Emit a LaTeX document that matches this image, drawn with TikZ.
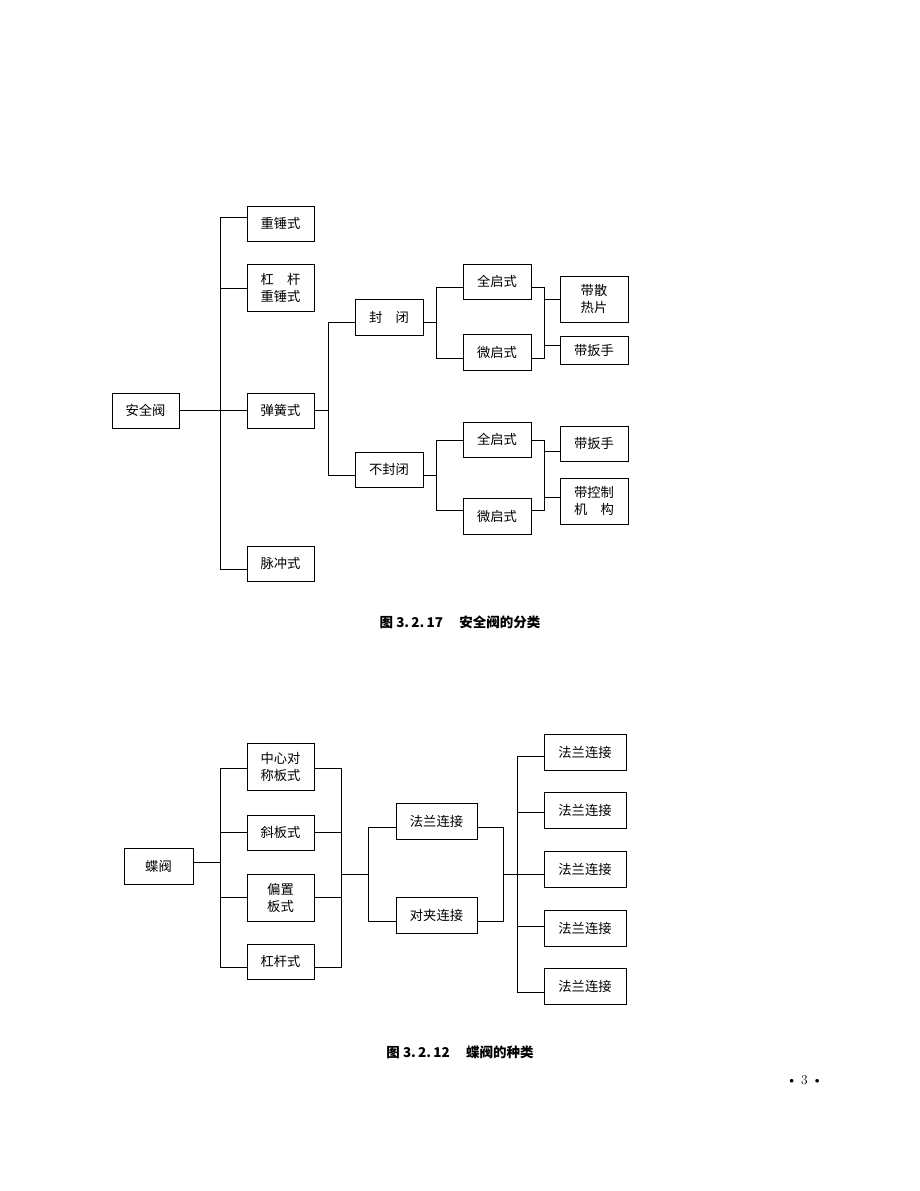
\documentclass[tikz,border=0pt]{standalone}
\usepackage{fontspec}
\newfontfamily\cjk{Noto Sans CJK SC}
\begin{document}
\begin{tikzpicture}[x=1pt,y=-1pt,
  box/.style={draw, line width=0.8pt, inner sep=0pt, align=center, font=\cjk\fontsize{13.3}{17}\selectfont},
  bx/.style 2 args={box, minimum width=#1pt, minimum height=#2pt},
  conn/.style={line width=0.8pt, line cap=rect},
  captext/.style={font=\cjk\bfseries\fontsize{13.5}{15}\selectfont, inner sep=0pt}]
\useasboundingbox (0,0) rectangle (920,1191);
% ---------- top diagram ----------
\node[bx={67}{35}] (A) at (145.5,410.5) {安全阀};
\node[bx={67}{35}] (B1) at (280.5,223.5) {重锤式};
\node[bx={67}{47}] (B2) at (280.5,287.5) {杠\hspace{1em}杆\\重锤式};
\node[bx={67}{35}] (B3) at (280.5,410.5) {弹簧式};
\node[bx={67}{35}] (B4) at (280.5,563.5) {脉冲式};
\node[bx={68}{36}] (C1) at (389,317) {封\hspace{1em}闭};
\node[bx={68}{35}] (C2) at (389,469.5) {不封闭};
\node[bx={68}{35}] (D1) at (497,281.5) {全启式};
\node[bx={68}{36}] (D2) at (497,352) {微启式};
\node[bx={68}{35}] (D3) at (497,439.5) {全启式};
\node[bx={68}{36}] (D4) at (497,516) {微启式};
\node[bx={68}{46}] (E1) at (594,299) {带散\\热片};
\node[bx={68}{28}] (E2) at (594,350) {带扳手};
\node[bx={68}{35}] (E3) at (594,443.5) {带扳手};
\node[bx={68}{46}] (E4) at (594,501) {带控制\\机\hspace{1em}构};
% trunk 1
\coordinate (tAt) at (220,217);
\coordinate (tAb) at (220,569);
\coordinate (b2) at (220,288);
\draw[conn] (A.east) -- (A.east -| tAt);
\draw[conn] (tAt) -- (tAb);
\draw[conn] (tAt) -- (tAt -| B1.west);
\draw[conn] (b2) -- (b2 -| B2.west);
\draw[conn] (B3.west -| tAt) -- (B3.west);
\draw[conn] (tAb) -- (tAb -| B4.west);
% trunk 2
\coordinate (tBt) at (328,322.7);
\coordinate (tBb) at (328,475);
\draw[conn] (B3.east) -- (B3.east -| tBt);
\draw[conn] (tBt) -- (tBb);
\draw[conn] (tBt) -- (tBt -| C1.west);
\draw[conn] (tBb) -- (tBb -| C2.west);
% upper group
\coordinate (tCt) at (436,287.7);
\coordinate (tCb) at (436,358.3);
\draw[conn] (tBt -| C1.east) -- (tBt -| tCt);
\draw[conn] (tCt) -- (tCb);
\draw[conn] (tCt) -- (tCt -| D1.west);
\draw[conn] (tCb) -- (tCb -| D2.west);
\coordinate (tDt) at (544,287.7);
\coordinate (tDb) at (544,358.3);
\draw[conn] (tDt -| D1.east) -- (tDt) -- (tDb) -- (tDb -| D2.east);
\coordinate (e1) at (544,299.3);
\coordinate (e2) at (544,345.7);
\draw[conn] (e1) -- (e1 -| E1.west);
\draw[conn] (e2) -- (e2 -| E2.west);
% lower group
\coordinate (uCt) at (436,440.7);
\coordinate (uCb) at (436,510);
\draw[conn] (tBb -| C2.east) -- (tBb -| uCt);
\draw[conn] (uCt) -- (uCb);
\draw[conn] (uCt) -- (uCt -| D3.west);
\draw[conn] (uCb) -- (uCb -| D4.west);
\coordinate (uDt) at (544,440.7);
\coordinate (uDb) at (544,510);
\draw[conn] (uDt -| D3.east) -- (uDt) -- (uDb) -- (uDb -| D4.east);
\coordinate (e3) at (544,451.7);
\coordinate (e4) at (544,497.7);
\draw[conn] (e3) -- (e3 -| E3.west);
\draw[conn] (e4) -- (e4 -| E4.west);
\node[captext] (cap1) at (460,622.5) {图 3.\,2.\,17\hspace{1.2em}安全阀的分类};
% ---------- bottom diagram ----------
\node[bx={69}{36}] (F) at (158.5,866) {蝶阀};
\node[bx={67}{47}] (G1) at (280.5,766.5) {中心对\\称板式};
\node[bx={67}{35}] (G2) at (280.5,832.5) {斜板式};
\node[bx={67}{47}] (G3) at (280.5,897.5) {偏置\\板式};
\node[bx={67}{35}] (G4) at (280.5,961.5) {杠杆式};
\node[bx={81}{36}] (H1) at (436.5,821) {法兰连接};
\node[bx={81}{36}] (H2) at (436.5,915) {对夹连接};
\node[bx={82}{36}] (I1) at (585,752) {法兰连接};
\node[bx={82}{36}] (I2) at (585,810.5) {法兰连接};
\node[bx={82}{36}] (I3) at (585,869) {法兰连接};
\node[bx={82}{36}] (I4) at (585,928) {法兰连接};
\node[bx={82}{36}] (I5) at (585,986) {法兰连接};
\coordinate (f) at (220,862.3);
\coordinate (g1) at (220,768.3);
\coordinate (g2) at (220,832.7);
\coordinate (g3) at (220,897.3);
\coordinate (g4) at (220,967.7);
\coordinate (r1) at (341,768.3);
\coordinate (r2) at (341,832.7);
\coordinate (r3) at (341,897.3);
\coordinate (r4) at (341,967.7);
\draw[conn] (f -| F.east) -- (f);
\draw[conn] (g1) -- (g4);
\foreach \i/\n in {1/G1,2/G2,3/G3,4/G4}{
  \draw[conn] (g\i) -- (g\i -| \n.west);
  \draw[conn] (r\i -| \n.east) -- (r\i);
}
\draw[conn] (r1) -- (r4);
\coordinate (h) at (341,874);
\coordinate (hT) at (368.7,827);
\coordinate (hB) at (368.7,921);
\draw[conn] (h) -- (h -| hT);
\draw[conn] (hT) -- (hB);
\draw[conn] (hT) -- (hT -| H1.west);
\draw[conn] (hB) -- (hB -| H2.west);
\coordinate (kT) at (503.5,827);
\coordinate (kB) at (503.5,921);
\coordinate (k) at (503.5,874);
\draw[conn] (kT -| H1.east) -- (kT) -- (kB) -- (kB -| H2.east);
\coordinate (i1) at (517.3,756.7);
\coordinate (i2) at (517.3,812.3);
\coordinate (i3) at (517.3,874);
\coordinate (i4) at (517.3,926);
\coordinate (i5) at (517.3,992.7);
\draw[conn] (k) -- (i3);
\draw[conn] (i1) -- (i5);
\foreach \i in {1,...,5}{
  \draw[conn] (i\i) -- (i\i -| I\i.west);
}
\node[captext] (cap2) at (460,1052.7) {图 3.\,2.\,12\hspace{1.2em}蝶阀的种类};
\node[font=\fontsize{13.5}{15}\selectfont, inner sep=0pt] (pg) at (804.5,1080) {\textbullet\ 3\ \textbullet};
\end{tikzpicture}
\end{document}
